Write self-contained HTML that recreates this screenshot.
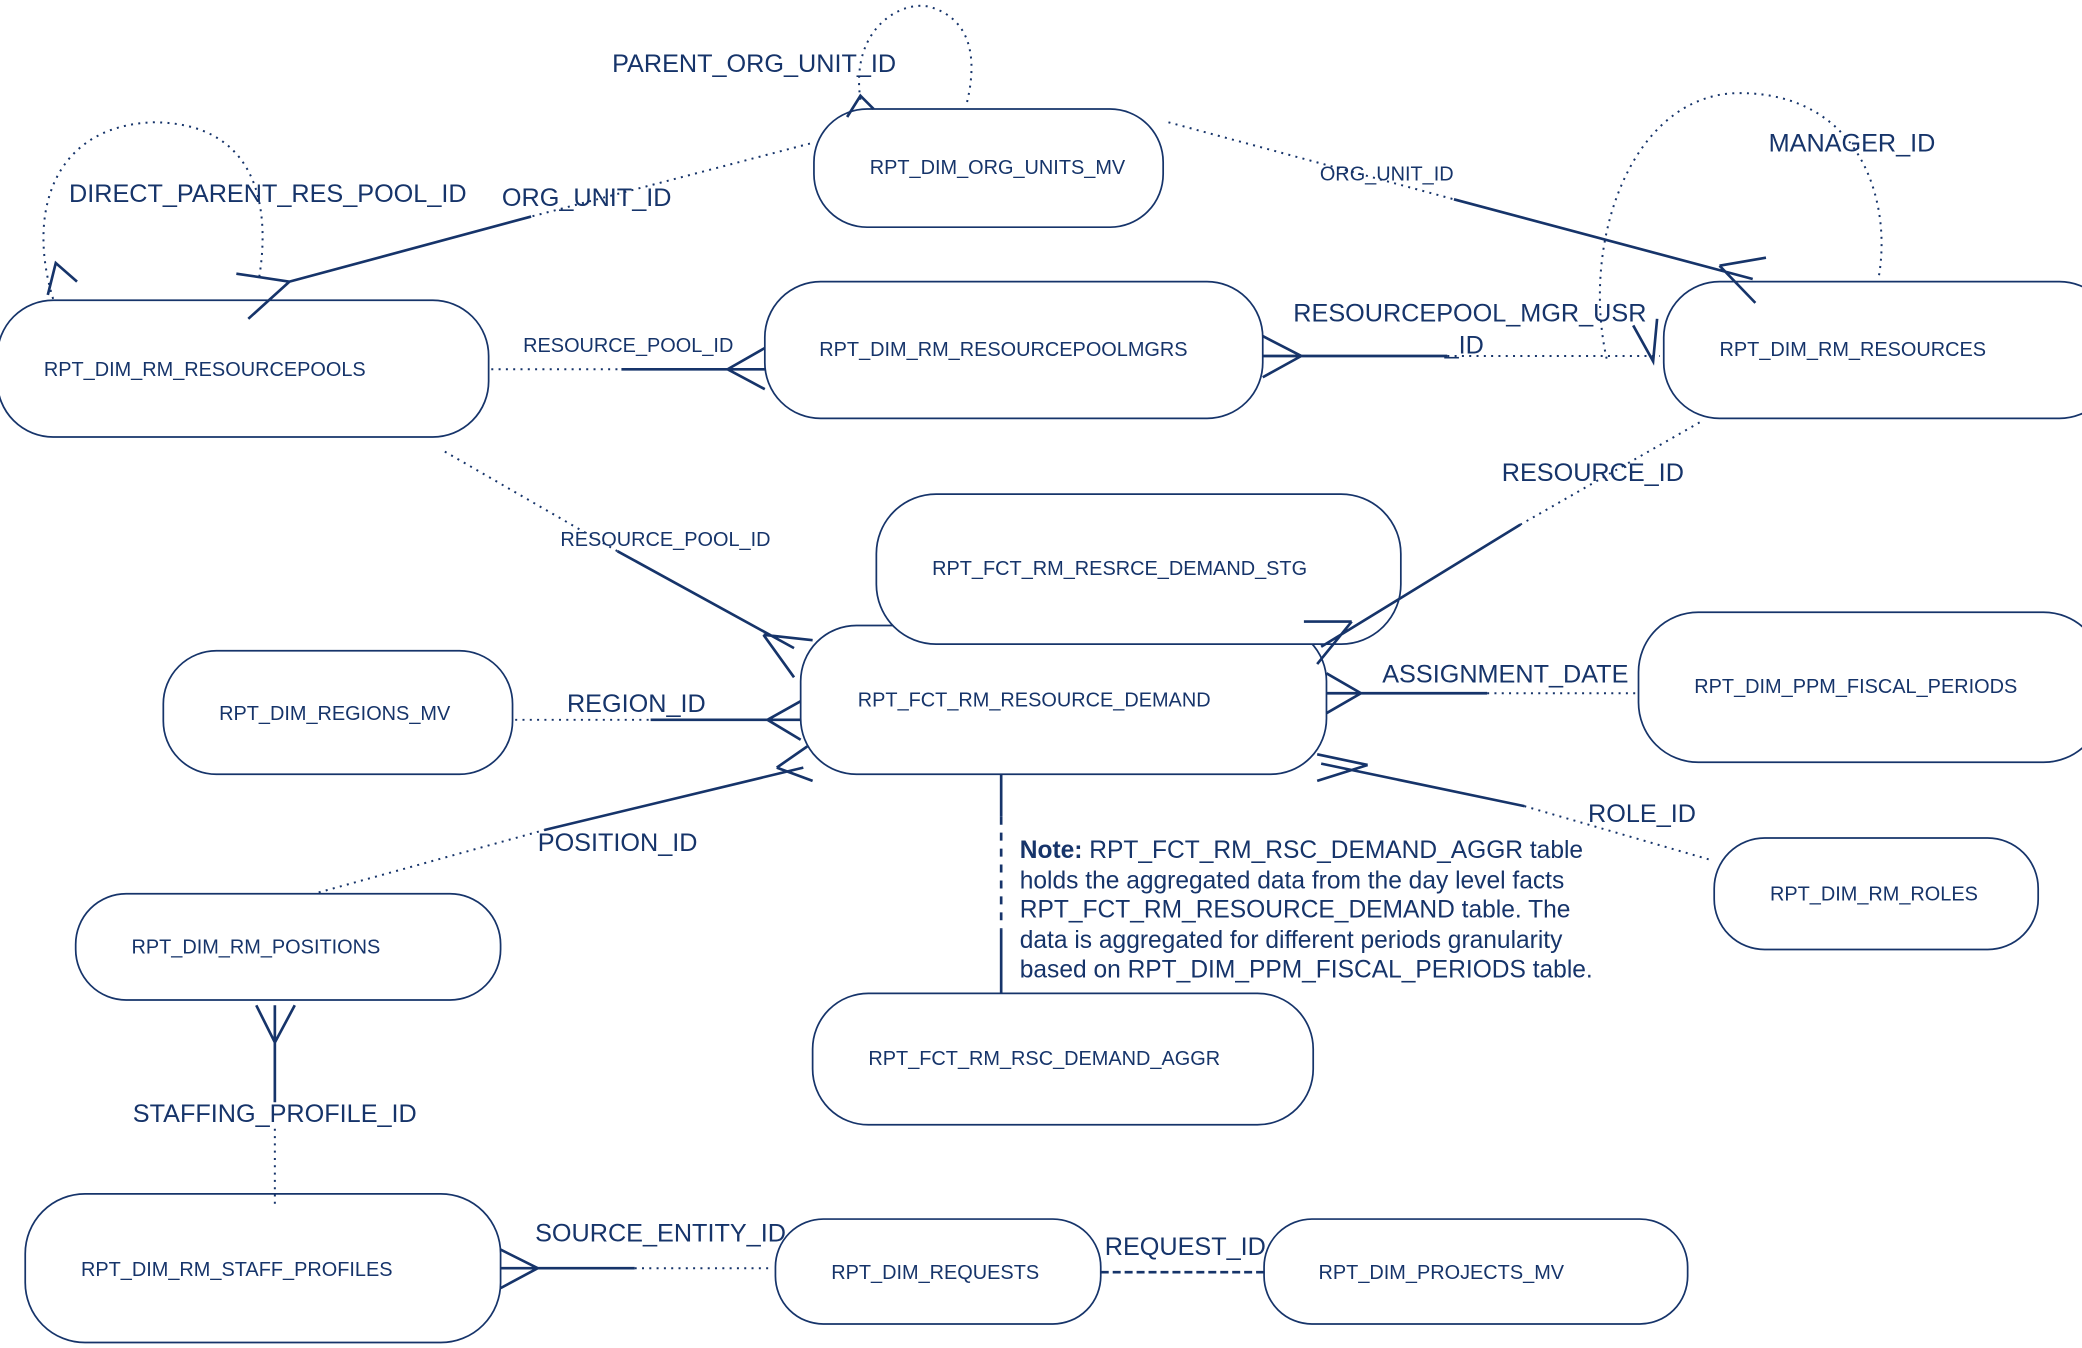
<!DOCTYPE html>
<html><head><meta charset="utf-8"><style>
html,body{margin:0;padding:0;background:#fff;}
svg{display:block;}
text{font-family:"Liberation Sans",sans-serif;fill:#16346a;}
.b{fill:#fff;stroke:#16346a;stroke-width:1.3;}
.s{stroke:#16346a;stroke-width:2;fill:none;}
.d{stroke:#16346a;stroke-width:1.5;fill:none;stroke-dasharray:1.5 4;}
.bt{font-size:15px;}
.lt{font-size:19px;}
.st{font-size:18.5px;}
</style></head><body>
<svg width="2082" height="1348" viewBox="0 0 1568 1015" xmlns="http://www.w3.org/2000/svg">
<!-- boxes -->
<rect class="b" x="613" y="82" width="263" height="89" rx="40"/>
<rect class="b" x="-2" y="226" width="370" height="103" rx="42"/>
<rect class="b" x="576" y="212" width="375" height="103" rx="42"/>
<rect class="b" x="1253" y="212" width="340" height="103" rx="42"/>
<rect class="b" x="603" y="471" width="396" height="112" rx="42"/>
<rect class="b" x="660" y="372" width="395" height="113" rx="45"/>
<rect class="b" x="123" y="490" width="263" height="93" rx="40"/>
<rect class="b" x="1234" y="461" width="350" height="113" rx="45"/>
<rect class="b" x="57" y="673" width="320" height="80" rx="38"/>
<rect class="b" x="1291" y="631" width="244" height="84" rx="38"/>
<rect class="b" x="612" y="748" width="377" height="99" rx="42"/>
<rect class="b" x="19" y="899" width="358" height="112" rx="45"/>
<rect class="b" x="584" y="918" width="245" height="79" rx="36"/>
<rect class="b" x="952" y="918" width="319" height="79" rx="36"/>
<!-- loops -->
<path class="d" d="M648,75 C640,20 680,0 700,5 C735,15 735,50 728,78"/>
<path class="d" d="M40,225 C20,160 40,95 115,92 C190,92 205,150 195,210"/>
<path class="d" d="M1210,270 C1190,180 1230,70 1310,70 C1400,70 1425,150 1415,208"/>
<path class="s" d="M36,222 L42,198 L58,212"/>
<path class="s" d="M638,88 L648,72 L658,82"/>
<path class="s" d="M1230,245 L1245,272 L1248,240"/>
<!-- connectors -->
<path class="d" d="M610,108 L400,163"/><path class="s" d="M400,163 L218,212 M218,212 L178,206 M218,212 L187,240"/>
<path class="d" d="M880,92 L1095,150"/><path class="s" d="M1095,150 L1320,210 M1295,200 L1330,194 M1295,200 L1322,228"/>
<path class="d" d="M370,278 L468,278"/><path class="s" d="M468,278 L576,278 M548,278 L576,262 M548,278 L576,293"/>
<path class="s" d="M951,268 L1090,268 M980,268 L951,253 M980,268 L951,284"/><path class="d" d="M1090,268 L1250,268"/>
<path class="d" d="M335,340 L465,415"/><path class="s" d="M465,415 L598,488 M575,478 L612,482 M575,478 L598,510"/>
<path class="d" d="M1280,318 L1145,395"/><path class="s" d="M1145,395 L995,487 M1018,468 L982,468 M1018,468 L992,500"/>
<path class="d" d="M388,542 L490,542"/><path class="s" d="M490,542 L603,542 M578,542 L603,528 M578,542 L603,557"/>
<path class="s" d="M999,522 L1120,522 M1025,522 L999,507 M1025,522 L999,537"/><path class="d" d="M1120,522 L1234,522"/>
<path class="d" d="M240,672 L410,625"/><path class="s" d="M410,625 L605,578 M585,578 L608,562 M585,578 L612,588"/>
<path class="s" d="M995,575 L1148,607 M1030,576 L992,568 M1030,576 L992,588"/><path class="d" d="M1148,607 L1290,648"/>
<path class="s" d="M754,583 L754,615"/><path class="s" d="M754,615 L754,700" stroke-dasharray="6 6"/><path class="s" d="M754,700 L754,748"/>
<path class="s" d="M207,757 L207,830 M207,785 L193,757 M207,785 L222,757"/><path class="d" d="M207,850 L207,908"/>
<path class="s" d="M377,955 L478,955 M405,955 L377,941 M405,955 L377,970"/><path class="d" d="M478,955 L580,955"/>
<path class="s" d="M829,958 L952,958" stroke-dasharray="6 3"/>
<!-- box text -->
<text class="bt" x="655" y="131">RPT_DIM_ORG_UNITS_MV</text>
<text class="bt" x="33" y="283">RPT_DIM_RM_RESOURCEPOOLS</text>
<text class="bt" x="617" y="268">RPT_DIM_RM_RESOURCEPOOLMGRS</text>
<text class="bt" x="1295" y="268">RPT_DIM_RM_RESOURCES</text>
<text class="bt" x="702" y="433">RPT_FCT_RM_RESRCE_DEMAND_STG</text>
<text class="bt" x="646" y="532">RPT_FCT_RM_RESOURCE_DEMAND</text>
<text class="bt" x="165" y="542">RPT_DIM_REGIONS_MV</text>
<text class="bt" x="1276" y="522">RPT_DIM_PPM_FISCAL_PERIODS</text>
<text class="bt" x="99" y="718">RPT_DIM_RM_POSITIONS</text>
<text class="bt" x="1333" y="678">RPT_DIM_RM_ROLES</text>
<text class="bt" x="654" y="802">RPT_FCT_RM_RSC_DEMAND_AGGR</text>
<text class="bt" x="61" y="961">RPT_DIM_RM_STAFF_PROFILES</text>
<text class="bt" x="626" y="963">RPT_DIM_REQUESTS</text>
<text class="bt" x="993" y="963">RPT_DIM_PROJECTS_MV</text>
<!-- labels -->
<text class="lt" x="461" y="54">PARENT_ORG_UNIT_ID</text>
<text class="lt" x="52" y="152">DIRECT_PARENT_RES_POOL_ID</text>
<text class="lt" x="378" y="155">ORG_UNIT_ID</text>
<text class="bt" x="994" y="136">ORG_UNIT_ID</text>
<text class="lt" x="1332" y="114">MANAGER_ID</text>
<text class="bt" x="394" y="265">RESOURCE_POOL_ID</text>
<text class="lt" x="974" y="242">RESOURCEPOOL_MGR_USR</text>
<text class="lt" x="1088" y="266">_ID</text>
<text class="lt" x="1131" y="362">RESOURCE_ID</text>
<text class="bt" x="422" y="411">RESOURCE_POOL_ID</text>
<text class="lt" x="427" y="536">REGION_ID</text>
<text class="lt" x="1041" y="514">ASSIGNMENT_DATE</text>
<text class="lt" x="1196" y="619">ROLE_ID</text>
<text class="lt" x="405" y="641">POSITION_ID</text>
<text class="lt" x="100" y="845">STAFFING_PROFILE_ID</text>
<text class="lt" x="403" y="935">SOURCE_ENTITY_ID</text>
<text class="lt" x="832" y="945">REQUEST_ID</text>
<!-- note -->
<text class="st" x="768" y="646"><tspan font-weight="bold">Note:</tspan> RPT_FCT_RM_RSC_DEMAND_AGGR table</text>
<text class="st" x="768" y="669">holds the aggregated data from the day level facts</text>
<text class="st" x="768" y="691">RPT_FCT_RM_RESOURCE_DEMAND table. The</text>
<text class="st" x="768" y="714">data is aggregated for different periods granularity</text>
<text class="st" x="768" y="736">based on RPT_DIM_PPM_FISCAL_PERIODS table.</text>
</svg>
</body></html>
